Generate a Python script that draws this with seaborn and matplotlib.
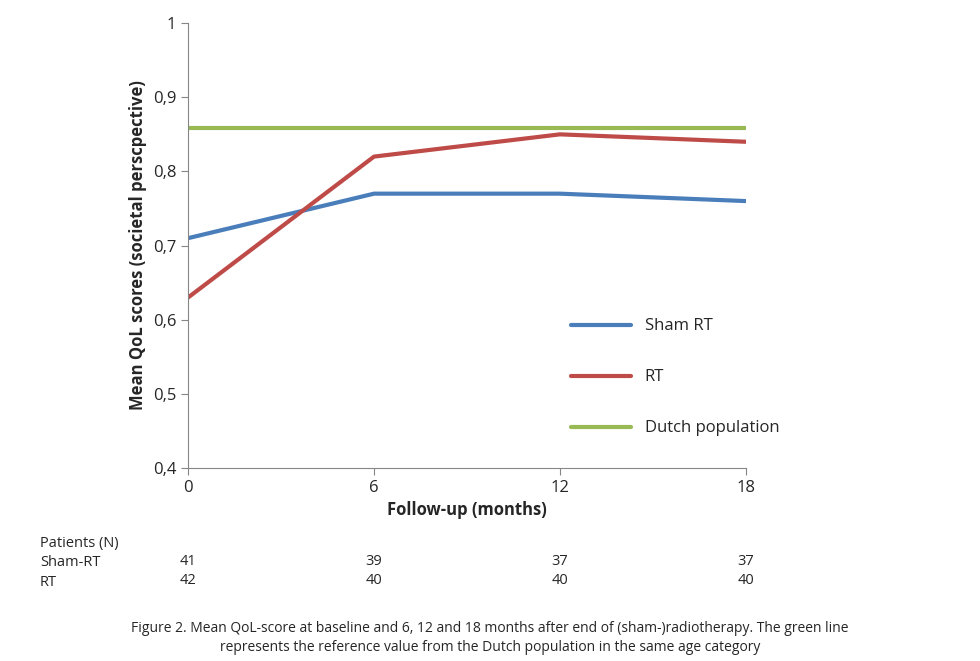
import numpy as np
import pandas as pd
import matplotlib
matplotlib.use("Agg")
import matplotlib.pyplot as plt
import seaborn as sns

months = [0, 6, 12, 18]
sham_rt = [0.71, 0.77, 0.77, 0.76]
rt = [0.63, 0.82, 0.85, 0.84]
dutch = [0.858, 0.858, 0.858, 0.858]
n_sham = [41, 39, 37, 37]
n_rt = [42, 40, 40, 40]

df = pd.DataFrame({
    "month": months * 3,
    "score": sham_rt + rt + dutch,
    "group": ["Sham RT"] * 4 + ["RT"] * 4 + ["Dutch population"] * 4,
})

sns.set_style("white")
plt.rcParams["font.family"] = ["Open Sans", "DejaVu Sans"]

fig = plt.figure(figsize=(9.8, 6.61), dpi=100)
ax = fig.add_axes([0.192, 0.292, 0.569, 0.673])

palette = {"Sham RT": "#4a7ebb", "RT": "#be4b48", "Dutch population": "#98b954"}
sns.lineplot(data=df, x="month", y="score", hue="group", palette=palette,
             linewidth=3, ax=ax)

ax.set_xlim(0, 18)
ax.set_ylim(0.4, 1.0)
ax.set_xticks(months)
ax.set_yticks(np.arange(0.4, 1.01, 0.1))
ax.set_yticklabels([f"{v:.1f}".replace(".", ",").replace("1,0", "1") for v in np.arange(0.4, 1.01, 0.1)])
ax.tick_params(labelsize=12, direction="out", length=5, color="#868686", left=True, bottom=True)
for s in ["top", "right"]:
    ax.spines[s].set_visible(False)
for s in ["left", "bottom"]:
    ax.spines[s].set_color("#868686")
ax.set_xlabel("Follow-up (months)", fontsize=12, fontweight="bold")
ax.set_ylabel("Mean QoL scores (societal perscpective)", fontsize=12, fontweight="bold")

ax.legend(title=None, frameon=False, fontsize=12, labelspacing=2.1, handlelength=3.6,
          loc="upper left", bbox_to_anchor=(0.66, 0.37))

trans = ax.get_xaxis_transform()
fig.text(40 / 980, 1 - 543 / 661, "Patients (N)", fontsize=10.5, va="center")
fig.text(40 / 980, 1 - 563 / 661, "Sham-RT", fontsize=10.5, va="center")
fig.text(40 / 980, 1 - 583 / 661, "RT", fontsize=10.5, va="center")
for m, a, b in zip(months, n_sham, n_rt):
    ax.text(m, -(563 - 468) / 453, str(a), transform=trans, ha="center", va="center", fontsize=10.5)
    ax.text(m, -(583 - 468) / 453, str(b), transform=trans, ha="center", va="center", fontsize=10.5)

fig.text(0.5, 1 - 638 / 661,
         "Figure 2. Mean QoL-score at baseline and 6, 12 and 18 months after end of (sham-)radiotherapy. The green line\n"
         "represents the reference value from the Dutch population in the same age category",
         ha="center", va="center", fontsize=10, linespacing=1.3)

fig.savefig("out.png", dpi=100)
